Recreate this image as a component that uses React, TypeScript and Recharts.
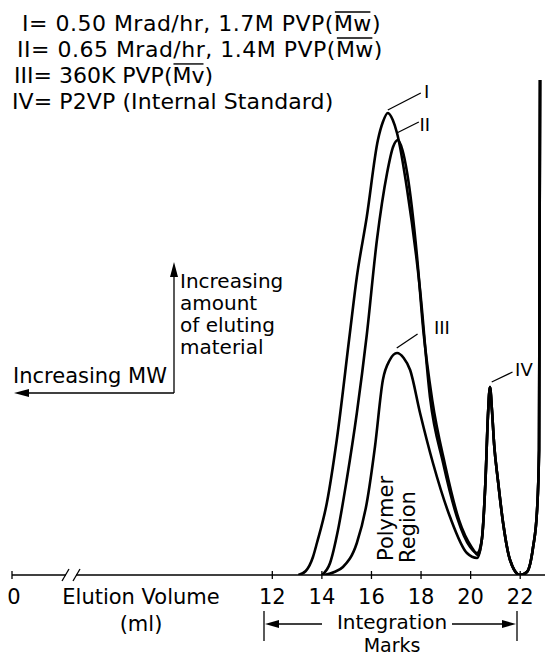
import React, { useLayoutEffect, useRef, useState } from 'react';
import { ComposedChart, Line, XAxis, YAxis, ReferenceLine, ReferenceDot } from 'recharts';

const FONT = '"DejaVu Sans", sans-serif';

// Elution volume (ml) and detector response (arbitrary units) for each trace
const volumeI = [13.05, 13.35, 13.64, 13.8, 14.2, 14.6, 15.13, 15.41, 15.81, 16.26, 16.46, 16.66, 16.86, 17.03, 17.44, 17.96, 18.36, 18.89, 19.45, 19.98, 20.26];
const responseI = [0, 4, 18, 32, 72, 135, 242, 298, 358, 435, 453, 462, 455, 442, 385, 285, 178, 112, 58, 28, 22];

const volumeII = [14.0, 14.33, 14.65, 15.0, 15.41, 15.81, 16.22, 16.63, 16.87, 17.07, 17.25, 17.44, 17.84, 18.09, 18.45, 18.97, 19.53, 20.06, 20.3];
const responseII = [0, 12, 45, 95, 162, 240, 335, 402, 428, 435, 425, 402, 318, 245, 175, 110, 55, 27, 20];

const volumeIII = [14.1, 14.5, 14.85, 15.41, 15.81, 16.14, 16.46, 16.74, 17.03, 17.3, 17.56, 17.96, 18.48, 19.17, 19.85, 20.26];
const responseIII = [0, 3, 8, 32, 72, 128, 195, 215, 222, 217, 205, 162, 112, 58, 22, 17];

// internal standard (IV) and solvent peak, common to all traces
const volumeTail = [20.45, 20.6, 20.7, 20.78, 20.86, 20.95, 21.1, 21.31, 21.59, 21.99, 22.27, 22.52, 22.68, 22.76, 22.8];
const responseTail = [35, 95, 160, 188, 165, 130, 95, 52, 15, 0, 3, 28, 65, 125, 495];

// axis (broken between 0 and 12 ml)
const axisTickValues = [1.5, 12, 14, 16, 18, 20, 22];
const axisTickLabels = ['0', '12', '14', '16', '18', '20', '22'];

// peak annotations
const peakNames = ['I', 'II', 'III', 'IV'];
const leaderStart = [[16.66, 465], [17.02, 442], [17.02, 227], [20.85, 193]];
const leaderEnd = [[17.99, 482], [17.91, 453], [17.86, 241], [21.69, 203]];
const labelPos = [[18.23, 484], [18.15, 451], [18.84, 248], [22.15, 206]];

// legend lines: [prefix, overlined part, suffix]
const legendLines = [
  ['I= 0.50 Mrad/hr, 1.7M PVP(', 'Mw', ')'],
  ['II= 0.65 Mrad/hr, 1.4M PVP(', 'Mw', ')'],
  ['III= 360K PVP(', 'Mv', ')'],
  ['IV= P2VP (Internal Standard)', '', ''],
];

const toSeries = (vols: number[], resp: number[]) => vols.map((v, i) => ({ v, r: resp[i] }));
const seriesI = toSeries(volumeI.concat(volumeTail), responseI.concat(responseTail));
const seriesII = toSeries(volumeII.concat(volumeTail), responseII.concat(responseTail));
const seriesIII = toSeries(volumeIII.concat(volumeTail), responseIII.concat(responseTail));

const AxisTick = (props: any) => {
  const { x, y, payload } = props;
  const idx = axisTickValues.indexOf(payload.value);
  return (
    <g>
      <line x1={x} x2={x} y1={y - 4} y2={y + 4} stroke="#000" strokeWidth={1.3} />
      <text x={x + (idx === 0 ? 2 : 0)} y={y + 29} textAnchor="middle" fontSize={21} fontFamily={FONT} fill="#000">
        {axisTickLabels[idx]}
      </text>
    </g>
  );
};

const PeakLabel = (text: string) => (p: any) => (
  <text x={p.cx} y={p.cy} textAnchor="middle" dominantBaseline="central" fontSize={18} fontFamily={FONT} fill="#000">
    {text}
  </text>
);

const LegendLine = ({ x, y, parts, ls }: { x: number; y: number; parts: string[]; ls: number }) => {
  const ref = useRef<SVGTSpanElement>(null);
  const [box, setBox] = useState<{ x: number; w: number } | null>(null);
  useLayoutEffect(() => {
    if (ref.current && parts[1]) {
      const b = (ref.current as any).getBBox();
      setBox({ x: b.x, w: b.width });
    }
  }, []);
  const fs = 22;
  return (
    <g>
      <text x={x} y={y} fontFamily={FONT} fontSize={fs} fill="#000" letterSpacing={ls}>
        {parts[0]}
        <tspan ref={ref}>{parts[1]}</tspan>
        {parts[2]}
      </text>
      {box && (
        <line x1={box.x + 1} x2={box.x + box.w - ls - 1} y1={y - fs * 0.73 - 3} y2={y - fs * 0.73 - 3} stroke="#000" strokeWidth={1.4} />
      )}
    </g>
  );
};

export default function App() {
  return (
    <div style={{ position: 'absolute', left: 0, top: 0, width: 547, height: 658, background: '#fff' }}>
      <ComposedChart width={547} height={658} margin={{ top: 5, right: 2, left: 12, bottom: 53 }}>
        <XAxis
          dataKey="v"
          type="number"
          domain={[1.5, 23]}
          allowDataOverflow
          ticks={axisTickValues}
          interval={0}
          height={30}
          tickSize={0}
          tickMargin={0}
          tickLine={false}
          axisLine={{ stroke: '#000', strokeWidth: 1.3 }}
          tick={<AxisTick />}
        />
        <YAxis type="number" domain={[0, 570]} hide width={0} allowDataOverflow />
        <Line data={seriesI} dataKey="r" type="monotone" dot={false} stroke="#000" strokeWidth={2.6} isAnimationActive={false} />
        <Line data={seriesII} dataKey="r" type="monotone" dot={false} stroke="#000" strokeWidth={2.6} isAnimationActive={false} />
        <Line data={seriesIII} dataKey="r" type="monotone" dot={false} stroke="#000" strokeWidth={2.6} isAnimationActive={false} />
        {peakNames.map((n, i) => (
          <ReferenceLine
            key={'l' + n}
            segment={[{ x: leaderStart[i][0], y: leaderStart[i][1] }, { x: leaderEnd[i][0], y: leaderEnd[i][1] }]}
            stroke="#000"
            strokeWidth={1.3}
            ifOverflow="visible"
          />
        ))}
        {peakNames.map((n, i) => (
          <ReferenceDot key={'d' + n} x={labelPos[i][0]} y={labelPos[i][1]} r={0} ifOverflow="visible" shape={PeakLabel(n)} />
        ))}
      </ComposedChart>
      <svg width={547} height={658} style={{ position: 'absolute', left: 0, top: 0, pointerEvents: 'none' }}>
        <LegendLine x={22} y={31} parts={legendLines[0]} ls={0.5} />
        <LegendLine x={17} y={57} parts={legendLines[1]} ls={0.5} />
        <LegendLine x={14} y={83} parts={legendLines[2]} ls={0} />
        <LegendLine x={12} y={109} parts={legendLines[3]} ls={0.1} />
        <g fontFamily={FONT} fontSize={20} fill="#000">
          <text x={180} y={288}>Increasing</text>
          <text x={180} y={310}>amount</text>
          <text x={180} y={332}>of eluting</text>
          <text x={180} y={354}>material</text>
        </g>
        <text x={13} y={383} fontFamily={FONT} fontSize={21} fill="#000">Increasing MW</text>
        <g stroke="#000" strokeWidth={1.3}>
          <line x1={174} y1={393} x2={174} y2={272} />
          <line x1={174} y1={393} x2={26} y2={393} />
        </g>
        <polygon points="174,262 170,277 178,277" fill="#000" />
        <polygon points="14,393 29,389 29,397" fill="#000" />
        {/* axis break */}
        <rect x={66} y={570} width={10} height={10} fill="#fff" />
        <g stroke="#000" strokeWidth={1.3}>
          <line x1={62} y1={581} x2={69} y2={569} />
          <line x1={73} y1={581} x2={80} y2={569} />
        </g>
        <g fontFamily={FONT} fontSize={21} fill="#000" textAnchor="middle">
          <text x={141} y={604}>Elution Volume</text>
          <text x={141} y={631}>(ml)</text>
        </g>
        <text x={392} y={629} fontFamily={FONT} fontSize={20} fill="#000" textAnchor="middle">Integration</text>
        <text x={392} y={652} fontFamily={FONT} fontSize={19} fill="#000" textAnchor="middle">Marks</text>
        <g stroke="#000" strokeWidth={1.3}>
          <line x1={264} y1={611} x2={264} y2={641} />
          <line x1={517} y1={611} x2={517} y2={641} />
          <line x1={270} y1={624} x2={322} y2={624} />
          <line x1={452} y1={624} x2={511} y2={624} />
        </g>
        <polygon points="265,624 279,620 279,628" fill="#000" />
        <polygon points="516,624 502,620 502,628" fill="#000" />
        <g fontFamily={FONT} fontSize={21} fill="#000">
          <text x={393} y={561} transform="rotate(-90 393 561)">Polymer</text>
          <text x={415} y={563} transform="rotate(-90 415 563)">Region</text>
        </g>
      </svg>
    </div>
  );
}
